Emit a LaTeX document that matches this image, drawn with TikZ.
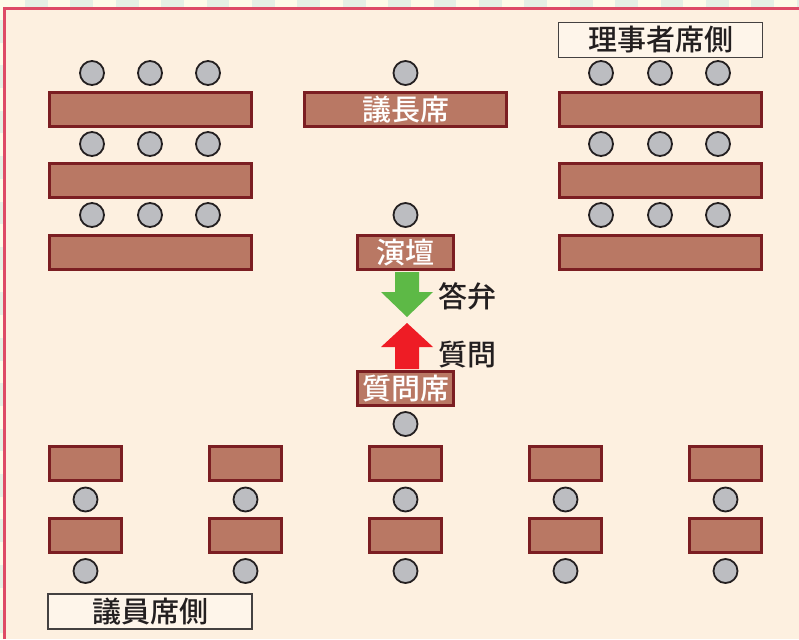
\documentclass[tikz,border=0pt]{standalone}
\usepackage{fontspec}
\newfontfamily\jpfam[BoldFont={Noto Sans CJK JP Medium}]{Noto Sans CJK JP}
\newcommand\jpfont{\jpfam\bfseries\fontsize{29}{31}\selectfont}
\definecolor{bgmain}{HTML}{FDF0E0}
\definecolor{stripcream}{HTML}{FEFBE8}
\definecolor{stripgreen}{HTML}{E5F0E4}
\definecolor{borderred}{HTML}{DE4B66}
\definecolor{tblfill}{HTML}{B97864}
\definecolor{tblline}{HTML}{7B1E22}
\definecolor{chairfill}{HTML}{BCBDC1}
\definecolor{chairline}{HTML}{231F20}
\definecolor{lblfill}{HTML}{FEF5EA}
\definecolor{lbltext}{HTML}{231F20}
\definecolor{agreen}{HTML}{5DB946}
\definecolor{ared}{HTML}{EE1C25}
\tikzset{
  tblbase/.style={draw=tblline, fill=tblfill, line width=3pt, inner sep=0pt, outer sep=0pt, minimum height=34pt, text=white, font=\jpfont},
  bigtbl/.style={tblbase, minimum width=202pt},
  midtbl/.style={tblbase, minimum width=96pt},
  smalltbl/.style={tblbase, minimum width=72pt},
  chair/.style={circle, draw=chairline, fill=chairfill, line width=1.8pt, minimum size=24pt, inner sep=0pt},
  lblbox/.style={draw=lbltext!85, fill=lblfill, line width=1.3pt, minimum width=204pt, minimum height=35pt, inner sep=0pt, text=lbltext, font=\jpfont},
  arrowtxt/.style={text=lbltext, font=\jpfont, anchor=west, inner sep=0pt}
}
\begin{document}
\begin{tikzpicture}[x=1pt,y=-1pt]
\useasboundingbox (0,0) rectangle (799,639);
% background and strips
\fill[stripcream] (0,0) rectangle (799,639);
\foreach \i in {0,...,17} \fill[stripgreen] ({25+45.4*\i},0) rectangle ++(22.7,7);
\foreach \i in {0,...,14} \fill[stripgreen] (0,{20+45.4*\i}) rectangle ++(3,22.7);
\fill[bgmain] (4.5,8.5) rectangle (799,639);
\draw[borderred, line width=3pt] (4.5,639) -- (4.5,8.5) -- (799,8.5);

% upper left and right blocks
\foreach \r/\ty/\cy in {1/109.5/73, 2/180.5/144, 3/252.5/215} {
  \node[bigtbl] (L\r) at (150.5,\ty) {};
  \node[bigtbl] (R\r) at (660,\ty) {};
  \foreach \c/\cx in {1/92, 2/150, 3/208} \node[chair] (lc\r\c) at (\cx,\cy) {};
  \foreach \c/\cx in {1/601, 2/660, 3/718} \node[chair] (rc\r\c) at (\cx,\cy) {};
}
% center
\node[chair] (chairman) at (405.5,73) {};
\node[bigtbl] (gicho) at (405.5,109.5) {議長席};
\node[chair] (speaker) at (405.5,215) {};
\node[midtbl] (endan) at (405.5,252.5) {演壇};
\node[midtbl] (shitsumon) at (405.5,388.5) {質問席};
\node[chair] (questioner) at (405.5,424) {};

% arrows
\fill[agreen] (395,272) -- (419,272) -- (419,292) -- (433,292) -- (407,317) -- (381,292) -- (395,292) -- cycle;
\fill[ared] (395,369) -- (419,369) -- (419,347) -- (433,347) -- (407,323) -- (381,347) -- (395,347) -- cycle;
\node[arrowtxt] (toben) at (438,296) {答弁};
\node[arrowtxt] (shitsu) at (438,355) {質問};

% lower block
\foreach \c/\cx in {1/85.5, 2/245.5, 3/405.5, 4/565.5, 5/725.5} {
  \node[smalltbl] (bt\c a) at (\cx,463.5) {};
  \node[chair] (bc\c a) at (\cx,499.5) {};
  \node[smalltbl] (bt\c b) at (\cx,535) {};
  \node[chair] (bc\c b) at (\cx,571) {};
}

% labels
\node[lblbox] (rijisha) at (660.5,40) {理事者席側};
\node[lblbox] (giin) at (150,611.5) {議員席側};
\end{tikzpicture}
\end{document}
